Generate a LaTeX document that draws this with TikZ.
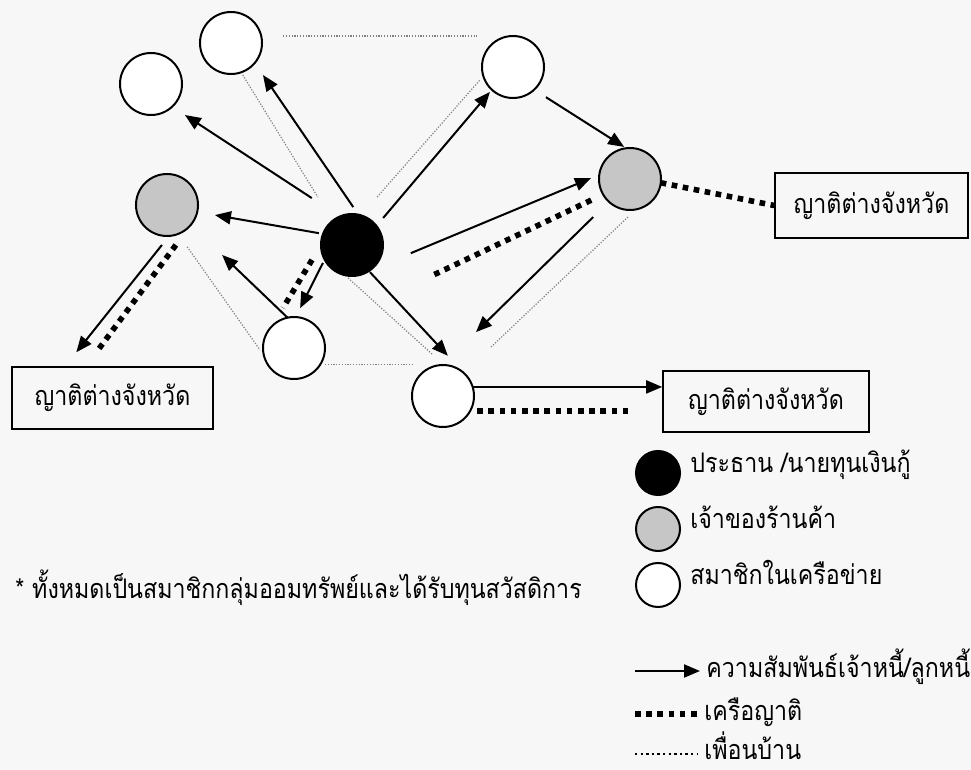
\documentclass[tikz,border=0pt]{standalone}
\usepackage{fontspec}
\newfontfamily\thaifont[Script=Thai, FakeStretch=0.86]{Loma}
\usetikzlibrary{arrows.meta}

\tikzset{
	member/.style={circle, draw, line width=1pt, fill=white, minimum size=31pt, inner sep=0pt, outer sep=0pt},
	shop/.style={member, fill=gray!45},
	chief/.style={member, fill=black},
	kinbox/.style={draw, line width=0.8pt, inner sep=0pt, font=\thaifont\fontsize{13.5}{16}\selectfont},
	thaitext/.style={anchor=base west, inner sep=0pt, font=\thaifont\fontsize{13.5}{16}\selectfont},
	debt/.style={line width=1pt, -{Triangle[length=8pt, width=6.5pt]}},
	kin/.style={line width=2.8pt, dash pattern=on 2.8pt off 2.8pt},
	neighbour/.style={gray, line width=0.6pt, dash pattern=on 0.6pt off 0.8pt}
}

\begin{document}
\begin{tikzpicture}[x=0.5pt, y=-0.5pt]
	\fill[black!3] (0,0) rectangle (971,770);
	\useasboundingbox (0,0) rectangle (971,770);

	% people in the network
	\node[chief] (chief) at (352,245) {};
	\node[member] (m1) at (231,43) {};
	\node[member] (m2) at (151,84) {};
	\node[shop] (s1) at (167,205) {};
	\node[member] (m3) at (294,348) {};
	\node[member] (m4) at (443,396) {};
	\node[member] (m5) at (513,67) {};
	\node[shop] (s2) at (630,179) {};

	% relatives in other provinces
	\node[kinbox, minimum width=100.5pt, minimum height=31pt] (k1) at (112.5,398) {ญาติต่างจังหวัด};
	\node[kinbox, minimum width=96.5pt, minimum height=32.5pt] (k2) at (871.5,205.5) {ญาติต่างจังหวัด};
	\node[kinbox, minimum width=103pt, minimum height=30.5pt] (k3) at (766,401.5) {ญาติต่างจังหวัด};

	% creditor / debtor
	\draw[debt, shorten <=4.6pt, shorten >=7.3pt] (chief.78) -- (m1.-40);
	\draw[debt, shorten <=16.8pt, shorten >=7.6pt] (chief.113) -- (m2.-47);
	\draw[debt, shorten <=2.1pt, shorten >=9pt] (chief.159) -- (s1.-13);
	\draw[debt, shorten <=5.8pt, shorten >=8.9pt] (s1.-86) -- ([xshift=27pt]k1.north west);
	\draw[debt, shorten >=21.7pt] (m3.102) -- (s1.-40);
	\draw[debt, shorten <=1.9pt, shorten >=5pt] (chief.-152) -- (m3.87);
	\draw[debt, shorten <=0.8pt, shorten >=12.5pt] (chief.-57) -- (m4.45);
	\draw[debt, shorten <=5.2pt, shorten >=1.5pt] (chief.38) -- (m5.-133);
	\draw[debt, shorten <=7pt, shorten >=1.2pt] (m5.-47) -- (s2.97);
	\draw[debt, shorten <=22pt, shorten >=4.5pt] (chief.-54) -- (s2.172);
	\draw[debt, shorten <=11pt, shorten >=23.5pt] (s2.-133) -- (m4.91);
	\draw[debt] (m4.17) -- (m4.17 -| k3.west);

	% kinship
	\draw[kin, shorten <=12.5pt, shorten >=10.5pt] (s1.-40) -- ([xshift=37.4pt]k1.north west);
	\draw[kin, shorten <=8.7pt, shorten >=10.6pt] (chief.180) -- (m3.135);
	\draw[kin, shorten <=6.6pt, shorten >=63.5pt] (s2.-150) -- (m3.37);
	\draw[kin] (s2.-7) -- (k2.west);
	\draw[kin, shorten <=3.5pt, shorten >=16.5pt] (m4.-29) -- (m4.-29 -| k3.west);

	% neighbours
	\draw[neighbour, shorten <=1.6pt, shorten >=14pt] (m1.-71) -- (chief.129);
	\draw[neighbour, shorten <=7.9pt, shorten >=3.4pt] (s1.-69) -- (m3.-166);
	\draw[neighbour, shorten <=2.1pt, shorten >=7.5pt] (chief.-103) -- (m4.88);
	\draw[neighbour, shorten <=2.5pt, shorten >=1.5pt] (m3.-33) -- (m3.-33 -| m4.150);
	\draw[neighbour, shorten <=11pt, shorten >=4.5pt] (m1.13) -- (m1.13 -| m5.150);
	\draw[neighbour, shorten <=12.2pt, shorten >=2.6pt] (chief.73) -- (m5.-163);
	\draw[neighbour, shorten <=5.5pt, shorten >=18.9pt] (s2.-79) -- (m4.48);

	% legend
	\foreach \y/\kind/\txt in {
		473/chief/{ประธาน /นายทุนเงินกู้},
		529/shop/{เจ้าของร้านค้า},
		585/member/{สมาชิกในเครือข่าย}
	}{
		\node[\kind, minimum size=22pt] (key\kind) at (658,\y) {};
		\node[thaitext] (txt\kind) at ([xshift=16pt]key\kind.center) {\txt};
	}
	\node[thaitext] (note) at (15,599) {* ทั้งหมดเป็นสมาชิกกลุ่มออมทรัพย์และได้รับทุนสวัสดิการ};

	\node[thaitext] (keydebt) at (706,678) {ความสัมพันธ์เจ้าหนี้/ลูกหนี้};
	\node[thaitext] (keykin) at (704,721) {เครือญาติ};
	\node[thaitext] (keynb) at (704,760) {เพื่อนบ้าน};
	\coordinate (d0) at (635,671);
	\coordinate (r0) at (635,714);
	\coordinate (n0) at (635,754);
	\draw[debt, shorten >=3pt] (d0) -- (d0 -| keydebt.west);
	\draw[kin, shorten >=3pt] (r0) -- (r0 -| keykin.west);
	\draw[neighbour, black, line width=1.2pt, dash pattern=on 1.2pt off 1.6pt, shorten >=3pt] (n0) -- (n0 -| keynb.west);
\end{tikzpicture}
\end{document}
